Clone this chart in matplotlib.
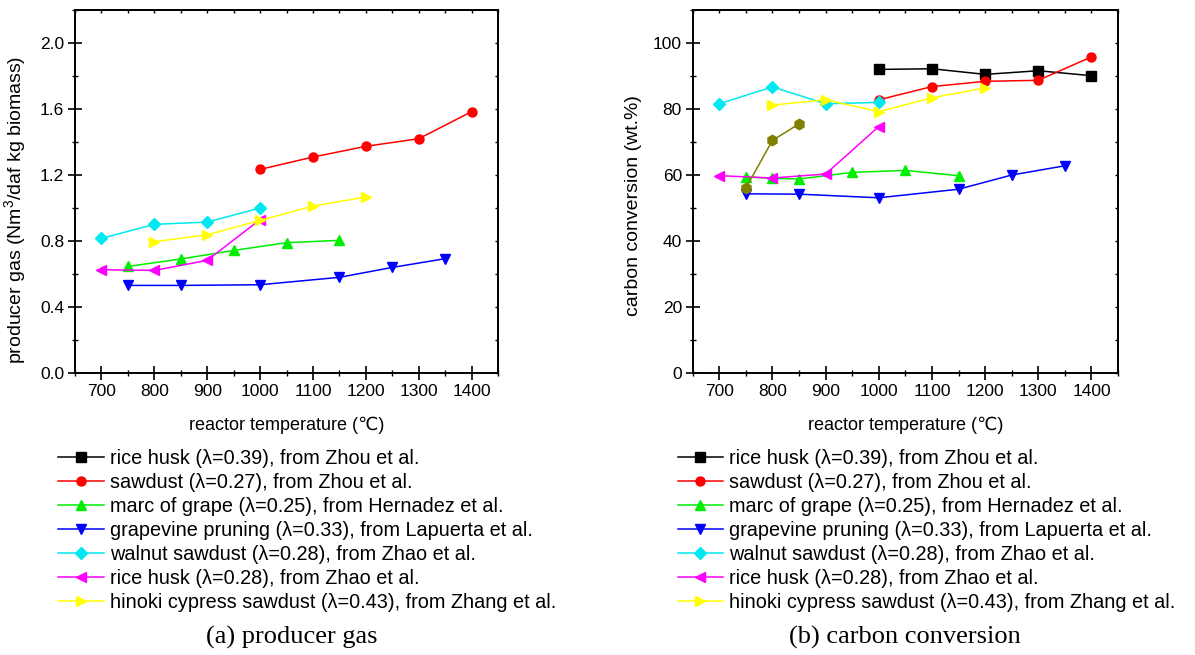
import matplotlib
matplotlib.use("Agg")
import matplotlib.pyplot as plt
from matplotlib.lines import Line2D
from matplotlib.ticker import MultipleLocator, FormatStrFormatter

plt.rcParams['font.family'] = ['Liberation Sans', 'DejaVu Sans']
plt.rcParams['mathtext.fontset'] = 'custom'
plt.rcParams['mathtext.rm'] = 'Liberation Sans'

# legend labels (same for both panels)
labels = ["rice husk (\u03bb=0.39), from Zhou et al.",
          "sawdust (\u03bb=0.27), from Zhou et al.",
          "marc of grape (\u03bb=0.25), from Hernadez et al.",
          "grapevine pruning (\u03bb=0.33), from Lapuerta et al.",
          "walnut sawdust (\u03bb=0.28), from Zhao et al.",
          "rice husk (\u03bb=0.28), from Zhao et al.",
          "hinoki cypress sawdust (\u03bb=0.43), from Zhang et al."]
colors = ['black', 'red', '#00ee00', 'blue', '#00e8f0', '#ff00ff', '#ffff00']
markers = ['s', 'o', '^', 'v', 'D', '<', '>']

# (a) producer gas, Nm3/daf kg biomass
gas_sawdust_t = [1000, 1100, 1200, 1300, 1400]
gas_sawdust = [1.234, 1.309, 1.374, 1.420, 1.584]
gas_grape_t = [750, 850, 950, 1050, 1150]
gas_grape = [0.646, 0.691, 0.743, 0.790, 0.804]
gas_pruning_t = [750, 850, 1000, 1150, 1250, 1350]
gas_pruning = [0.531, 0.531, 0.535, 0.580, 0.640, 0.693]
gas_walnut_t = [700, 800, 900, 1000]
gas_walnut = [0.816, 0.901, 0.915, 1.000]
gas_husk_zhao_t = [700, 800, 900, 1000]
gas_husk_zhao = [0.626, 0.622, 0.683, 0.930]
gas_hinoki_t = [800, 900, 1000, 1100, 1200]
gas_hinoki = [0.796, 0.838, 0.925, 1.012, 1.067]

# (b) carbon conversion, wt.%
cc_husk_zhou_t = [1000, 1100, 1200, 1300, 1400]
cc_husk_zhou = [92.0, 92.2, 90.5, 91.6, 90.1]
cc_sawdust_t = [1000, 1100, 1200, 1300, 1400]
cc_sawdust = [82.8, 86.8, 88.4, 88.7, 95.8]
cc_grape_t = [750, 800, 850, 950, 1050, 1150]
cc_grape = [59.4, 59.0, 58.8, 60.8, 61.4, 59.8]
cc_pruning_t = [750, 850, 1000, 1150, 1250, 1350]
cc_pruning = [54.3, 54.2, 53.1, 55.7, 60.0, 62.8]
cc_walnut_t = [700, 800, 900, 1000]
cc_walnut = [81.6, 86.7, 81.6, 82.0]
cc_husk_zhao_t = [700, 800, 900, 1000]
cc_husk_zhao = [59.8, 59.1, 60.3, 74.7]
cc_hinoki_t = [800, 900, 1000, 1100, 1200]
cc_hinoki = [81.2, 82.8, 79.2, 83.4, 86.4]
cc_extra_t = [750, 800, 850]
cc_extra = [56.1, 70.5, 75.5]

gas_series = [(None, None), (gas_sawdust_t, gas_sawdust), (gas_grape_t, gas_grape),
              (gas_pruning_t, gas_pruning), (gas_walnut_t, gas_walnut),
              (gas_husk_zhao_t, gas_husk_zhao), (gas_hinoki_t, gas_hinoki)]
cc_series = [(cc_husk_zhou_t, cc_husk_zhou), (cc_sawdust_t, cc_sawdust), (cc_grape_t, cc_grape),
             (cc_pruning_t, cc_pruning), (cc_walnut_t, cc_walnut),
             (cc_husk_zhao_t, cc_husk_zhao), (cc_hinoki_t, cc_hinoki)]

fig = plt.figure(figsize=(11.95, 6.55), dpi=100)
ax1 = fig.add_axes([0.0628, 0.4305, 0.3540, 0.5542])
ax2 = fig.add_axes([0.5797, 0.4305, 0.3559, 0.5542])


def style_axes(ax, ymax, ystep):
    ax.set_xlim(650, 1450)
    ax.set_ylim(0, ymax)
    ax.xaxis.set_minor_locator(MultipleLocator(50))
    ax.yaxis.set_major_locator(MultipleLocator(ystep))
    ax.yaxis.set_minor_locator(MultipleLocator(ystep / 2))
    ax.set_xticks(range(700, 1401, 100))
    for s in ax.spines.values():
        s.set_linewidth(1.4)
    ax.tick_params(which='major', direction='inout', length=9.5, width=1.2, labelsize=12.5, pad=3)
    ax.tick_params(which='minor', direction='inout', length=4.8, width=1.0)
    # small inward ticks on the top and right frame
    top = ax.secondary_xaxis('top')
    top.xaxis.set_major_locator(MultipleLocator(50))
    top.tick_params(direction='in', length=2.5, width=1.0, labeltop=False)
    right = ax.secondary_yaxis('right')
    right.yaxis.set_major_locator(MultipleLocator(ystep / 2))
    right.tick_params(direction='in', length=2.5, width=1.0, labelright=False)
    top.spines['top'].set_linewidth(1.4)
    right.spines['right'].set_linewidth(1.4)
    ax.set_xlabel('reactor temperature (\u2103)', fontsize=13, labelpad=13)


for i, (t, v) in enumerate(gas_series):
    if t is None:
        continue
    ax1.plot(t, v, color=colors[i], marker=markers[i], markersize=6.5, linewidth=1.1, clip_on=False)
style_axes(ax1, 2.2, 0.4)
ax1.yaxis.set_major_formatter(FormatStrFormatter('%.1f'))
ax1.set_ylabel('producer gas (Nm$^3$/daf kg biomass)', fontsize=14)
ax1.yaxis.set_label_coords(-0.109, 0.449)

for i, (t, v) in enumerate(cc_series):
    ax2.plot(t, v, color=colors[i], marker=markers[i], markersize=6.5, linewidth=1.1, clip_on=False)
ax2.plot(cc_extra_t, cc_extra, color='#808000', marker='h', markersize=7.5, linewidth=1.1)
style_axes(ax2, 110, 20)
ax2.set_ylabel('carbon conversion (wt.%)', fontsize=14)
ax2.yaxis.set_label_coords(-0.119, 0.461)

handles = [Line2D([0], [0], color=c, marker=m, markersize=6.5, linewidth=1.1)
           for c, m in zip(colors, markers)]
for x0 in (0.0485, 0.567):
    fig.legend(handles, labels, loc='upper left', bbox_to_anchor=(x0, 0.3145),
               frameon=False, fontsize=14.3, handlelength=2.3, handletextpad=0.3,
               labelspacing=0.25, borderaxespad=0, borderpad=0)

fig.text(0.244, 0.0275, '(a) producer gas', family='Liberation Serif', fontsize=19,
         ha='center', va='center')
fig.text(0.757, 0.0275, '(b) carbon conversion', family='Liberation Serif', fontsize=19,
         ha='center', va='center')

fig.savefig('out.png', dpi=100)
